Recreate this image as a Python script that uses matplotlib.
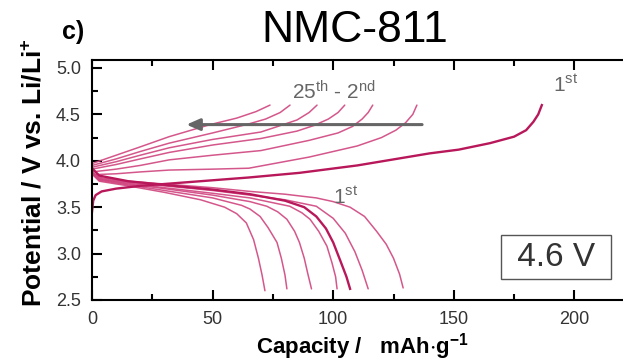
import numpy as np
import matplotlib
matplotlib.use("Agg")
from matplotlib import pyplot as plt
from matplotlib.ticker import MultipleLocator

plt.rcParams['font.family'] = ['Liberation Sans', 'DejaVu Sans']
plt.rcParams['mathtext.default'] = 'regular'

# ---- data (capacity mAh/g, potential V) ----
# first charge
ch1_cap = [0, 0.5, 1.5, 4, 10, 20, 40, 65, 86, 110, 140, 152, 165, 175, 180, 183, 185, 186.5]
ch1_v = [3.45, 3.57, 3.63, 3.67, 3.70, 3.73, 3.77, 3.82, 3.87, 3.95, 4.08, 4.12, 4.19, 4.26, 4.33, 4.42, 4.50, 4.60]

# charges 2nd .. 25th (shown ones), from 25th to 2nd
ch25_cap = [0, 10, 20, 32, 49, 60, 68, 73.8]
ch25_v = [3.97, 4.06, 4.15, 4.26, 4.39, 4.46, 4.53, 4.60]
chb_cap = [0, 10, 20, 32, 50, 64, 72, 78, 82.1]
chb_v = [3.95, 4.02, 4.10, 4.19, 4.30, 4.39, 4.45, 4.52, 4.60]
chc_cap = [0, 10, 20, 32, 50, 70, 77, 85, 90, 93.3]
chc_v = [3.93, 3.99, 4.06, 4.14, 4.23, 4.31, 4.37, 4.44, 4.52, 4.60]
chd_cap = [0, 10, 20, 32, 50, 70, 85, 92, 98, 102, 104.8]
chd_v = [3.91, 3.96, 4.02, 4.09, 4.17, 4.24, 4.32, 4.38, 4.45, 4.52, 4.60]
che_cap = [0, 10, 20, 32, 50, 70, 90, 102, 108, 112, 114.5, 116.4]
che_v = [3.88, 3.91, 3.95, 4.01, 4.06, 4.11, 4.22, 4.30, 4.37, 4.45, 4.52, 4.60]
ch2_cap = [0, 10, 20, 32, 50, 65, 90, 110, 120, 126, 130, 133, 134.7]
ch2_v = [3.85, 3.86, 3.88, 3.90, 3.91, 3.92, 4.04, 4.16, 4.25, 4.33, 4.41, 4.50, 4.60]

# first discharge
dis1_cap = [0, 3, 15, 30, 50, 65.5, 80, 88, 93, 97, 100, 103, 105.5, 107]
dis1_v = [3.92, 3.84, 3.78, 3.74, 3.69, 3.64, 3.57, 3.50, 3.40, 3.27, 3.12, 2.92, 2.75, 2.62]

# other discharges
dis2_cap = [0, 3, 15, 30, 50, 65.5, 80, 93, 100, 107, 113, 118, 122, 125, 127.5, 129]
dis2_v = [3.88, 3.82, 3.78, 3.75, 3.71, 3.67, 3.64, 3.60, 3.56, 3.50, 3.40, 3.24, 3.10, 2.95, 2.78, 2.63]
dise_cap = [0, 3, 15, 30, 50, 65.5, 80, 93, 100, 105, 109, 112, 114.5]
dise_v = [3.88, 3.81, 3.77, 3.73, 3.68, 3.63, 3.58, 3.51, 3.38, 3.22, 3.02, 2.82, 2.62]
disd_cap = [0, 3, 15, 30, 50, 65.5, 82, 87, 90.4, 94, 97.4, 99.5, 101, 101.6]
disd_v = [3.87, 3.80, 3.76, 3.71, 3.65, 3.60, 3.51, 3.44, 3.37, 3.24, 3.08, 2.90, 2.75, 2.62]
disc_cap = [0, 3, 15, 30, 50, 65.5, 72.5, 77, 80.8, 84, 86, 88, 89.5, 91]
disc_v = [3.87, 3.80, 3.75, 3.70, 3.63, 3.56, 3.51, 3.45, 3.37, 3.24, 3.12, 2.95, 2.78, 2.62]
disb_cap = [0, 3, 15, 30, 50, 62, 65.5, 69.7, 73, 76.7, 78.5, 80, 80.8]
disb_v = [3.86, 3.79, 3.74, 3.68, 3.60, 3.52, 3.48, 3.40, 3.28, 3.12, 2.95, 2.77, 2.62]
disa_cap = [0, 3, 15, 30, 45, 55, 60, 64, 67, 69, 70.5, 71.7]
disa_v = [3.86, 3.78, 3.73, 3.66, 3.58, 3.50, 3.43, 3.33, 3.15, 2.95, 2.77, 2.60]

other_curves = [(ch25_cap, ch25_v), (chb_cap, chb_v), (chc_cap, chc_v),
                (chd_cap, chd_v), (che_cap, che_v), (ch2_cap, ch2_v),
                (dis2_cap, dis2_v), (dise_cap, dise_v), (disd_cap, disd_v),
                (disc_cap, disc_v), (disb_cap, disb_v), (disa_cap, disa_v)]

fig = plt.figure(figsize=(6.23, 3.64), dpi=100)
ax = fig.add_axes([92/623, 64/364, 230*2.412/623, 240/364])

pink = '#d0457f'
dark = '#b8185a'
for c, v in other_curves:
    ax.plot(c, v, color=pink, lw=1.1, alpha=0.9, solid_capstyle='round')
ax.plot(ch1_cap, ch1_v, color=dark, lw=1.7)
ax.plot(dis1_cap, dis1_v, color=dark, lw=1.7)

ax.set_xlim(0, 230)
ax.set_ylim(2.5, 5.086)
ax.xaxis.set_major_locator(MultipleLocator(50))
ax.xaxis.set_minor_locator(MultipleLocator(25))
ax.yaxis.set_major_locator(MultipleLocator(0.5))
ax.yaxis.set_minor_locator(MultipleLocator(0.25))
ax.yaxis.set_major_formatter(matplotlib.ticker.FormatStrFormatter('%.1f'))
ax.tick_params(which='both', direction='in', top=True, right=False, width=1.5,
               labelsize=13, labelcolor='#333333')
ax.tick_params(which='major', length=7)
ax.tick_params(axis='x', which='major', pad=8)
ax.tick_params(axis='y', which='major', pad=8)
ax.tick_params(which='minor', length=4)
for s in ax.spines.values():
    s.set_linewidth(1.5)

ax.set_xlabel(r'Capacity /   mAh$\cdot$g$^{-1}$', fontsize=16, fontweight='bold')
ax.xaxis.set_label_coords(0.487, -0.128)
ax.set_ylabel(r'Potential / V vs. Li/Li$^{+}$', fontsize=19, fontweight='bold')
ax.yaxis.set_label_coords(-0.082, 0.53)

# annotations
ax.annotate('', xy=(38, 4.39), xytext=(138, 4.39),
            arrowprops=dict(arrowstyle='-|>,head_length=0.8,head_width=0.35',
                            color='#666666', lw=2.2))
ax.text(83, 4.66, r'25$^{th}$ - 2$^{nd}$', fontsize=15, color='#666666')
ax.text(191, 4.74, r'1$^{st}$', fontsize=15, color='#666666')
ax.text(100, 3.53, r'1$^{st}$', fontsize=15, color='#666666')
ax.text(192.5, 2.96, ' 4.6 V ', fontsize=24, color='#333333', ha='center', va='center',
        bbox=dict(boxstyle='square,pad=0.2', fc='white', ec='#555555', lw=1.0))

fig.text(62/623, 1 - 32/364, 'c)', fontsize=18, fontweight='bold', ha='left', va='center')
fig.text(355/623, 1 - 30/364, 'NMC-811', fontsize=32, ha='center', va='center')

fig.savefig('out.png', dpi=100)
